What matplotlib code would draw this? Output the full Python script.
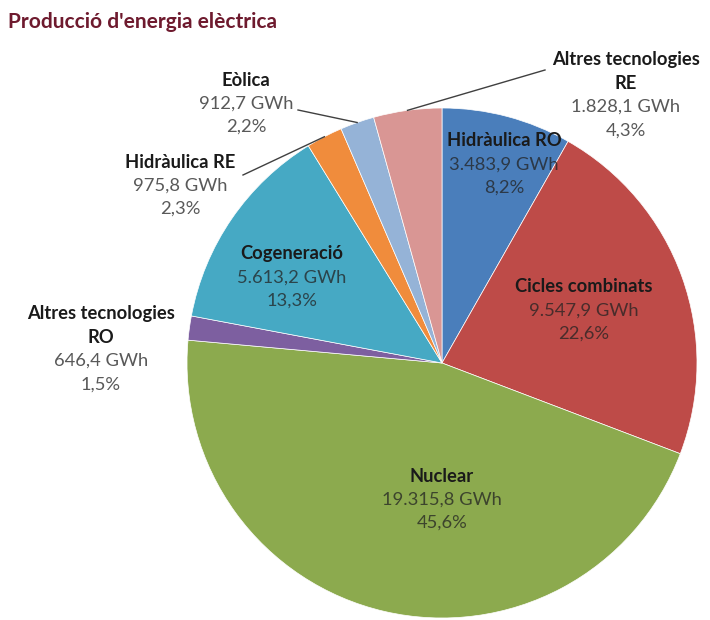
import numpy as np
import matplotlib
matplotlib.use('Agg')
import matplotlib.pyplot as plt

# data
names = ['Hidràulica RO', 'Cicles combinats', 'Nuclear', 'Altres tecnologies\nRO',
         'Cogeneració', 'Hidràulica RE', 'Eòlica', 'Altres tecnologies\nRE']
gwh = [3483.9, 9547.9, 19315.8, 646.4, 5613.2, 975.8, 912.7, 1828.1]
gwh_txt = ['3.483,9 GWh', '9.547,9 GWh', '19.315,8 GWh', '646,4 GWh',
           '5.613,2 GWh', '975,8 GWh', '912,7 GWh', '1.828,1 GWh']
pct_txt = ['8,2%', '22,6%', '45,6%', '1,5%', '13,3%', '2,3%', '2,2%', '4,3%']
colors = ['#4a7ebb', '#be4b48', '#8caa4e', '#7d5fa0', '#46a9c4', '#f08c3c', '#95b3d7', '#d99694']

W, H = 710, 620
cx, cy, r = 442, H - 363, 255

# label anchor (x, y of first line, in image pixels from top), inside flag
label_pos = [(504, 141, True), (584, 287, True), (442, 476, True), (101, 314, False),
             (292, 254, True), (180, 162, False), (246, 80, False), (626, 60, False)]
# where leader lines end (image pixels), only for outside small slices
leader_end = {5: (243, 175), 6: (298, 110), 7: (545, 70)}

plt.rcParams['font.family'] = ['Lato', 'DejaVu Sans']
fig = plt.figure(figsize=(W / 100, H / 100), dpi=100)
ax = fig.add_axes([0, 0, 1, 1])

wedges, _ = ax.pie(gwh, colors=colors, startangle=90, counterclock=False,
                   center=(cx, cy), radius=r,
                   wedgeprops=dict(edgecolor='white', linewidth=0.5))
ax.set_xlim(0, W)
ax.set_ylim(0, H)
ax.set_aspect('equal')
ax.axis('off')

fs = 13.2
step = 23.5
for i, (x, y, inside) in enumerate(label_pos):
    lines = names[i].split('\n')
    yy = y
    for ln in lines:
        ax.text(x, H - yy, ln, ha='center', va='center', fontsize=fs,
                fontweight='bold', color='#1a1a1a')
        yy += step
    vc = '#222222' if inside else '#595959'
    al = 0.75 if inside else 1.0
    ax.text(x, H - yy, gwh_txt[i], ha='center', va='center', fontsize=fs,
            color=vc, alpha=al)
    yy += step
    ax.text(x, H - yy, pct_txt[i], ha='center', va='center', fontsize=fs,
            color=vc, alpha=al)

# leader lines from wedge mid-angle on the rim
for i, (ex, ey) in leader_end.items():
    w = wedges[i]
    ang = np.deg2rad((w.theta1 + w.theta2) / 2)
    px = cx + r * np.cos(ang)
    py = cy + r * np.sin(ang)
    ax.plot([ex, px], [H - ey, py], color='#404040', linewidth=1)

fig.text(8 / W, 1 - 22 / H, "Producció d'energia elèctrica", ha='left', va='center',
         fontsize=15, fontweight='bold', color='#6e1a2e')

fig.savefig('out.png', dpi=100)
